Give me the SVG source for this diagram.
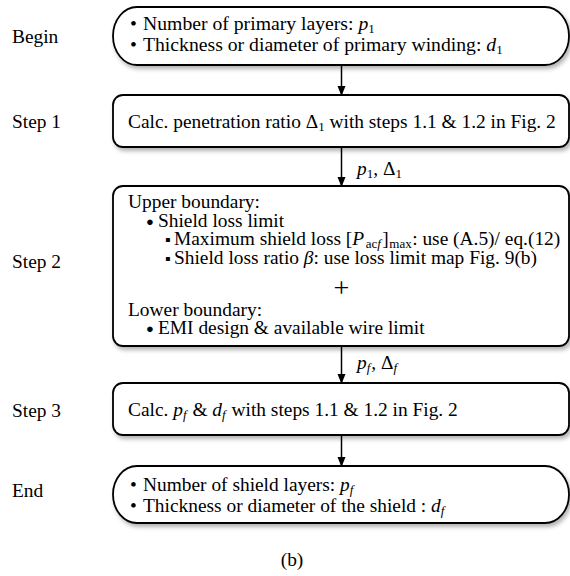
<svg xmlns="http://www.w3.org/2000/svg" width="570" height="576" viewBox="0 0 570 576" font-family="Liberation Serif, Times New Roman, serif" font-size="19.4">
<defs>
<filter id="sh" x="-5%" y="-10%" width="115%" height="130%">
<feDropShadow dx="2" dy="3" stdDeviation="2" flood-color="#000" flood-opacity="0.3"/>
</filter>
<marker id="ah" markerWidth="10" markerHeight="10" refX="9" refY="5" orient="auto" markerUnits="userSpaceOnUse">
<path d="M0,1 L10,5 L0,9 z" fill="#000"/>
</marker>
<style>
text{font-family:"Liberation Serif","Times New Roman",serif;font-size:19.4px;fill:#000}
.box{fill:#fff;stroke:#000;stroke-width:1.8;filter:url(#sh)}
.conn{stroke:#000;stroke-width:1.5;fill:none;marker-end:url(#ah)}
.i{font-style:italic}
.sub{font-size:13px}
.dot{font-size:13px}
.sq{font-size:16px}
.bg{font-size:19.7px}
</style>
</defs>
<text x="12" y="43">Begin</text>
<text x="12" y="128">Step 1</text>
<text x="12" y="268">Step 2</text>
<text x="12" y="417">Step 3</text>
<text x="12" y="497">End</text>

<g id="connectors">
<line class="conn" x1="341.5" y1="66" x2="341.5" y2="95"/>
<line class="conn" x1="341.5" y1="148" x2="341.5" y2="186"/>
<line class="conn" x1="341.5" y1="347" x2="341.5" y2="383"/>
<line class="conn" x1="341.5" y1="436" x2="341.5" y2="466"/>
<text x="357" y="175"><tspan class="i">p</tspan><tspan class="sub" dy="3">1</tspan><tspan dy="-3">, Δ</tspan><tspan class="sub" dy="3">1</tspan></text>
<text x="357" y="369"><tspan class="i">p</tspan><tspan class="sub i" dy="3">f</tspan><tspan dy="-3" dx="1">, Δ</tspan><tspan class="sub i" dy="3">f</tspan></text>
</g>

<g id="begin">
<rect class="box" x="113" y="7" width="456" height="58" rx="24" ry="29"/>
<text x="130" y="30" class="bg">•</text>
<text x="143" y="30" class="bg">Number of primary layers: <tspan class="i">p</tspan><tspan class="sub" dy="3">1</tspan></text>
<text x="130" y="51" class="bg">•</text>
<text x="143" y="51" class="bg">Thickness or diameter of primary winding: <tspan class="i">d</tspan><tspan class="sub" dy="3">1</tspan></text>
</g>

<g id="step1">
<rect class="box" x="113" y="95" width="456" height="52" rx="10"/>
<text x="128" y="128">Calc. penetration ratio Δ<tspan class="sub" dy="3">1</tspan><tspan dy="-3"> with steps 1.1 &amp; 1.2 in Fig. 2</tspan></text>
</g>

<g id="step2">
<rect class="box" x="113" y="186" width="456" height="160" rx="10"/>
<text x="128" y="208">Upper boundary:</text>
<text x="146" y="226" class="dot">●</text>
<text x="158" y="227">Shield loss limit</text>
<text x="165" y="245" class="sq">▪</text>
<text x="174" y="245">Maximum shield loss [<tspan class="i">P</tspan><tspan class="sub" dy="3" dx="1.5">ac</tspan><tspan class="sub i">f</tspan><tspan dy="-3" dx="1.5">]</tspan><tspan class="sub" dy="3" dx="0.5">max</tspan><tspan dy="-3" dx="0.5">: use (A.5)/ eq.(12)</tspan></text>
<text x="165" y="264" class="sq">▪</text>
<text x="174" y="264">Shield loss ratio <tspan class="i">β</tspan>: use loss limit map Fig. 9(b)</text>
<text x="341.5" y="297" text-anchor="middle" style="font-size:28px">+</text>
<text x="128" y="316">Lower boundary:</text>
<text x="146" y="333" class="dot">●</text>
<text x="158" y="334">EMI design &amp; available wire limit</text>
</g>

<g id="step3">
<rect class="box" x="113" y="383" width="456" height="52" rx="10"/>
<text x="128" y="416">Calc. <tspan class="i">p</tspan><tspan class="sub i" dy="3">f</tspan><tspan dy="-3" dx="1"> &amp; </tspan><tspan class="i">d</tspan><tspan class="sub i" dy="3">f</tspan><tspan dy="-3" dx="1"> with steps 1.1 &amp; 1.2 in Fig. 2</tspan></text>
</g>

<g id="end">
<rect class="box" x="113" y="466" width="456" height="57" rx="24" ry="28.5"/>
<text x="130" y="491">•</text>
<text x="143" y="491">Number of shield layers: <tspan class="i">p</tspan><tspan class="sub i" dy="3">f</tspan></text>
<text x="130" y="512">•</text>
<text x="143" y="512">Thickness or diameter of the shield : <tspan class="i">d</tspan><tspan class="sub i" dy="3">f</tspan></text>
</g>

<text x="292" y="566" text-anchor="middle">(b)</text>
</svg>
